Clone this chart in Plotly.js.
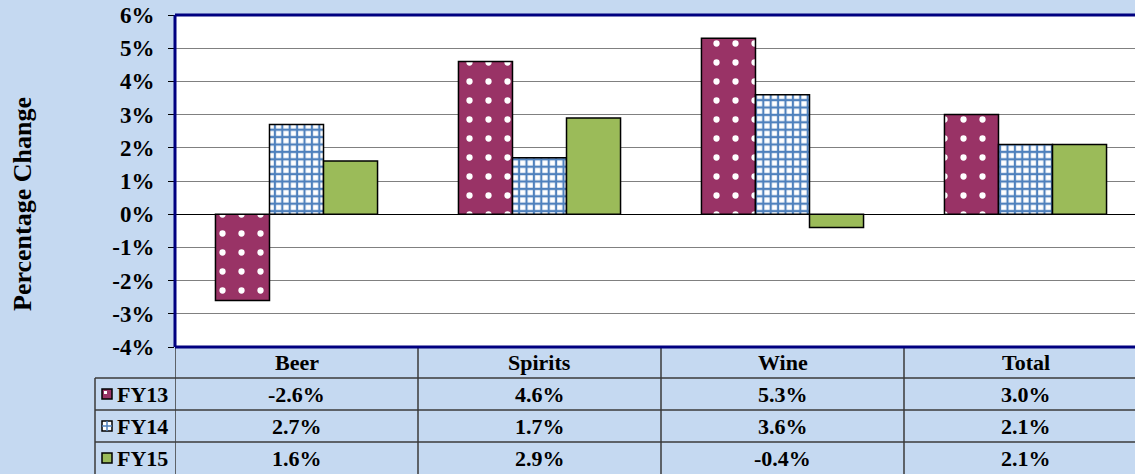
<!DOCTYPE html>
<html>
<head>
<meta charset="utf-8">
<script src="https://cdn.plot.ly/plotly-3.0.1.min.js"></script>
<style>
  html, body { margin: 0; padding: 0; background: #C5D9F1; }
  #chart { width: 1135px; height: 474px; }
</style>
</head>
<body>
<div id="chart"></div>
<script>
// ---- Data ----
const categories = ['Beer', 'Spirits', 'Wine', 'Total'];
const seriesNames = ['FY13', 'FY14', 'FY15'];
const fy13 = [-2.6, 4.6, 5.3, 3.0];
const fy14 = [2.7, 1.7, 3.6, 2.1];
const fy15 = [1.6, 2.9, -0.4, 2.1];
const yTickVals = [-4, -3, -2, -1, 0, 1, 2, 3, 4, 5, 6];
const yTickText = ['-4%', '-3%', '-2%', '-1%', '0%', '1%', '2%', '3%', '4%', '5%', '6%'];
const yTitle = 'Percentage Change';

// ---- Styling ----
const FONT = '"Liberation Serif", "Times New Roman", Times, serif';
const BG = '#C5D9F1';
const MAROON = '#993366';
const BLUE = '#4F81BD';
const GREEN = '#9BBB59';
const NAVY = '#000080';
const TABLE_LINE = '#3a3a3a';

const W = 1135, H = 474;
const M = { l: 175, r: 0, t: 15, b: 127 };
const plotW = W - M.l - M.r;
const plotH = H - M.t - M.b;
const catW = 243; // pixel width of one category slot
const xMax = -0.5 + plotW / catW;

function px2paperX(px) { return (px - M.l) / plotW; }
function px2paperY(py) { return (H - M.b - py) / plotH; }

const allSeries = [fy13, fy14, fy15];

const traces = [
  {
    type: 'bar', name: seriesNames[0], x: categories, y: fy13,
    marker: {
      color: MAROON,
      line: { color: '#000000', width: 1.5 },
      pattern: { shape: '.', bgcolor: MAROON, fgcolor: '#FFFFFF', fgopacity: 1, size: 19, solidity: 0.085 }
    },
    hoverinfo: 'skip'
  },
  {
    type: 'bar', name: seriesNames[1], x: categories, y: fy14,
    marker: {
      color: '#FFFFFF',
      line: { color: '#000000', width: 1.5 },
      pattern: { shape: '+', bgcolor: '#FFFFFF', fgcolor: BLUE, fgopacity: 1, size: 7.4, solidity: 0.5 }
    },
    hoverinfo: 'skip'
  },
  {
    type: 'bar', name: seriesNames[2], x: categories, y: fy15,
    marker: { color: GREEN, line: { color: '#000000', width: 1.5 } },
    hoverinfo: 'skip'
  }
];

// ---- Shapes: plot border + data table ----
const shapes = [];
const navyLine = { color: NAVY, width: 3 };
shapes.push({ type: 'line', xref: 'paper', yref: 'paper', x0: 0, x1: 1.02, y0: 1, y1: 1, line: navyLine, layer: 'above' });
shapes.push({ type: 'line', xref: 'paper', yref: 'paper', x0: 0, x1: 0, y0: 0, y1: 1, line: navyLine, layer: 'above' });

const tLine = { color: TABLE_LINE, width: 1.5 };
const yBottom = px2paperY(H + 5);
const rowEdges = [378, 410, 442];
for (let i = 0; i < categories.length; i++) {
  shapes.push({ type: 'line', xref: 'x', yref: 'paper', x0: i - 0.5, x1: i - 0.5, y0: 0, y1: yBottom, line: tLine, layer: 'above' });
}
const tableLeft = px2paperX(95);
rowEdges.forEach(py => {
  shapes.push({ type: 'line', xref: 'paper', yref: 'paper', x0: tableLeft, x1: 1.02, y0: px2paperY(py), y1: px2paperY(py), line: tLine, layer: 'above' });
});
shapes.push({ type: 'line', xref: 'paper', yref: 'paper', x0: tableLeft, x1: tableLeft, y0: px2paperY(378), y1: yBottom, line: tLine, layer: 'above' });
shapes.push({ type: 'line', xref: 'paper', yref: 'paper', x0: 0, x1: 1.02, y0: 0, y1: 0, line: navyLine, layer: 'above' });

// legend keys
const keyX0 = px2paperX(102), keyX1 = px2paperX(112);
const rowTops = [378, 410, 442];
rowTops.forEach((rt, i) => {
  const y0 = px2paperY(rt + 11), y1 = px2paperY(rt + 21);
  const fill = i === 0 ? MAROON : (i === 1 ? '#FFFFFF' : GREEN);
  shapes.push({ type: 'rect', xref: 'paper', yref: 'paper', x0: keyX0, x1: keyX1, y0: y0, y1: y1,
    fillcolor: fill, line: { color: '#000000', width: 1.5 }, layer: 'above' });
  if (i === 0) {
    shapes.push({ type: 'rect', xref: 'paper', yref: 'paper', x0: px2paperX(104), x1: px2paperX(107), y0: px2paperY(rt + 16), y1: px2paperY(rt + 13),
      fillcolor: '#FFFFFF', line: { width: 0 }, layer: 'above' });
  }
  if (i === 1) {
    shapes.push({ type: 'line', xref: 'paper', yref: 'paper', x0: px2paperX(107), x1: px2paperX(107), y0: y0, y1: y1, line: { color: BLUE, width: 1.5 }, layer: 'above' });
    shapes.push({ type: 'line', xref: 'paper', yref: 'paper', x0: keyX0, x1: keyX1, y0: px2paperY(rt + 16), y1: px2paperY(rt + 16), line: { color: BLUE, width: 1.5 }, layer: 'above' });
  }
});

// ---- Annotations: table text + y title ----
const annotations = [];
const tFont = { family: FONT, size: 22, color: '#000000', weight: 700 };
const headerY = px2paperY(362.5);
categories.forEach((c, i) => {
  annotations.push({ xref: 'x', yref: 'paper', x: i, y: headerY, text: c, showarrow: false, font: tFont, xanchor: 'center', yanchor: 'middle' });
});
allSeries.forEach((s, r) => {
  const yc = px2paperY(rowTops[r] + 16.5);
  s.forEach((v, i) => {
    annotations.push({ xref: 'x', yref: 'paper', x: i, y: yc, text: v.toFixed(1) + '%', showarrow: false, font: tFont, xanchor: 'center', yanchor: 'middle' });
  });
  annotations.push({ xref: 'paper', yref: 'paper', x: px2paperX(115), y: yc, text: seriesNames[r], showarrow: false, font: tFont, xanchor: 'left', yanchor: 'middle' });
});
annotations.push({ xref: 'paper', yref: 'paper', x: px2paperX(22), y: px2paperY(204), text: yTitle, textangle: -90, showarrow: false,
  font: { family: FONT, size: 26, color: '#000000', weight: 700 }, xanchor: 'center', yanchor: 'middle' });

const layout = {
  width: W, height: H,
  margin: M,
  paper_bgcolor: BG,
  plot_bgcolor: '#FFFFFF',
  showlegend: false,
  barmode: 'group',
  bargap: 0.333,
  bargroupgap: 0,
  font: { family: FONT, color: '#000000' },
  xaxis: {
    type: 'category',
    range: [-0.5, xMax],
    showticklabels: false,
    showgrid: false,
    zeroline: false,
    showline: false,
    ticks: '',
    fixedrange: true
  },
  yaxis: {
    range: [-4, 6],
    tickvals: yTickVals,
    ticktext: yTickText,
    tickfont: { family: FONT, size: 23, color: '#000000', weight: 700 },
    ticks: 'outside',
    ticklen: 6,
    tickwidth: 1,
    tickcolor: '#000000',
    ticklabelstandoff: 9,
    showgrid: true,
    gridcolor: '#808080',
    gridwidth: 1,
    zeroline: true,
    zerolinecolor: '#000000',
    zerolinewidth: 1,
    showline: false,
    fixedrange: true
  },
  shapes: shapes,
  annotations: annotations
};

Plotly.newPlot('chart', traces, layout, { displayModeBar: false, staticPlot: true });
</script>
</body>
</html>
